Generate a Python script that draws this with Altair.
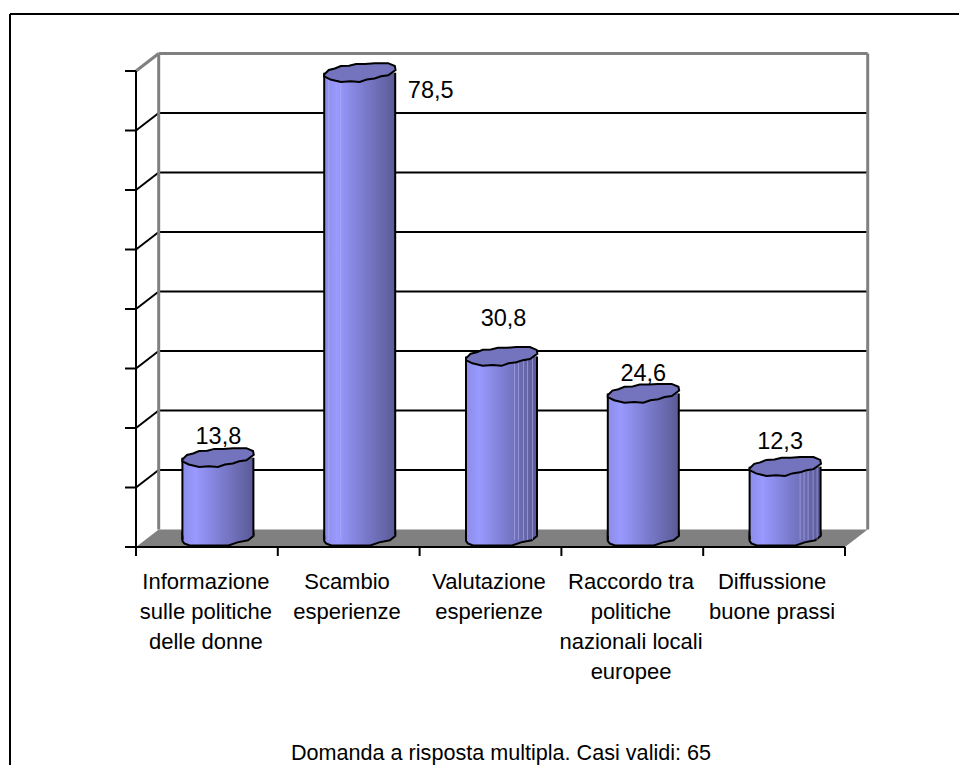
import altair as alt
import pandas as pd

# ---- chart values
categories = ["Informazione|sulle politiche|delle donne", "Scambio|esperienze",
              "Valutazione|esperienze", "Raccordo tra|politiche|nazionali locali|europee",
              "Diffussione|buone prassi"]
values = [13.8, 78.5, 30.8, 24.6, 12.3]
value_labels = ["13,8", "78,5", "30,8", "24,6", "12,3"]
y_ticks = [0, 10, 20, 30, 40, 50, 60, 70, 80]
x_ticks = [0, 1, 2, 3, 4, 5]
footer = ["Domanda a risposta multipla. Casi validi: 65"]

# ---- layout (pixels translated to scale units)
PX, PY = 141.8, 5.95           # px per category / per value unit
X0, Y0 = 128, 539              # position of the origin inside the view
W, H = 951, 757
DEPTH_X, DEPTH_Y = 22.7 / PX, 17.5 / PY
BASE_Y = 1.2
HALF = 35.5 / PX
CENTER = 0.5 + 11 / PX
label_dx = [0.5, 71, 2, 0, -5]
label_dy = [-20.7, 18, -37.6, -19.5, -24.7]
cat_dx = [-1, -1.7, -1.5, -1.3, -2]
stripe_bars = [1, 1, 2, 2, 2, 2, 2, 4, 4, 4, 4, 4]
stripe_px = [-19, -31, 13, 17, 22, 26, 31, 15, 19, 23, 28, 32]

x_scale = alt.Scale(domain=[-X0 / PX, (W - X0) / PX], range=[0, W], nice=False, zero=False)
y_scale = alt.Scale(domain=[(Y0 - H) / PY, Y0 / PY], range=[H, 0], nice=False, zero=False)
X = lambda f: alt.X(f, type="quantitative", scale=x_scale, axis=None)
Y = lambda f: alt.Y(f, type="quantitative", scale=y_scale, axis=None)
X2 = lambda f: alt.X2(f)
Y2 = lambda f: alt.Y2(f)

bars = pd.DataFrame({
    "c": [i + CENTER for i in range(5)],
    "v": values,
})
bars["l"] = bars.c - HALF
bars["r"] = bars.c + HALF
bars["top"] = bars.v + BASE_Y
bars["base"] = BASE_Y
bars["base_r"] = BASE_Y + 4 / PY
bars["tx"] = [c + d / PX for c, d in zip(bars.c, label_dx)]
bars["ty"] = [t + d / -PY for t, d in zip(bars.top, label_dy)]
bars["txt"] = value_labels
bars["catx"] = [i + 0.5 + d / PX for i, d in enumerate(cat_dx)]
bars["caty"] = -24.5 / PY
bars["cat"] = categories

stripes = pd.DataFrame({
    "x": [bars.c[b] + p / PX for b, p in zip(stripe_bars, stripe_px)],
    "top": [bars.top[b] for b in stripe_bars],
    "base": [BASE_Y for _ in stripe_bars],
})


def segs(rows):
    return pd.DataFrame(rows, columns=["x", "y", "x2", "y2"])


def rule(rows, color="black", width=2):
    return alt.Chart(segs(rows)).mark_rule(color=color, strokeWidth=width).encode(
        x=X("x"), y=Y("y"), x2=X2("x2"), y2=Y2("y2"))


floor = alt.Chart(pd.DataFrame({
    "y": [0, DEPTH_Y], "x": [0, DEPTH_X], "x2": [5, 5 + DEPTH_X]
})).mark_area(orient="horizontal", color="#808080", opacity=1).encode(
    y=Y("y"), x=X("x"), x2=X2("x2"))

grid_values = [v for v in y_ticks if 0 < v < 80]
grid = rule([[DEPTH_X, v + DEPTH_Y, 5 + DEPTH_X, v + DEPTH_Y] for v in grid_values])
diag = rule([[0, v, DEPTH_X, v + DEPTH_Y] for v in grid_values])
wall = rule([
    [DEPTH_X, DEPTH_Y, DEPTH_X, 80 + DEPTH_Y],
    [5 + DEPTH_X, DEPTH_Y, 5 + DEPTH_X, 80 + DEPTH_Y],
    [DEPTH_X, 80 + DEPTH_Y, 5 + DEPTH_X, 80 + DEPTH_Y],
    [0, 80, DEPTH_X, 80 + DEPTH_Y],
], color="#808080", width=3)
axes = rule(
    [[0, 0, 0, 80], [0, 0, 5, 0]]
    + [[-11 / PX, v, 0, v] for v in y_ticks]
    + [[t, 0, t, -9 / PY] for t in x_ticks]
)
frame = rule([
    [(10 - 8 - X0) / PX, (Y0 - 6) / PY, (W - X0) / PX, (Y0 - 6) / PY],
    [(10 - 8 - X0) / PX, (Y0 - 6) / PY, (10 - 8 - X0) / PX, (Y0 - H) / PY],
])

side_grad = alt.Gradient(gradient="linear", x1=0, x2=1, y1=0, y2=0, stops=[
    alt.GradientStop(offset=0, color="#8C8CE8"),
    alt.GradientStop(offset=0.18, color="#9999FF"),
    alt.GradientStop(offset=0.55, color="#7C7CCF"),
    alt.GradientStop(offset=1, color="#5A5A96"),
])

top_pts = [(-1, .05), (-.87, -.08), (-.7, -.12), (-.53, -.19), (-.3, -.2), (-.10, -.25), (.15, -.25),
           (.42, -.27), (.80, -.27), (.99, -.19), (1.01, -.08), (.80, .07), (.6, .1), (.42, .16),
           (.2, .19), (0, .26), (-.25, .24), (-.53, .26), (-.82, .19), (-1, .10)]
bottom_pts = [(-1, -.2), (1, -.2), (1, -.11), (.85, .01), (.55, .07), (.3, .16),
              (-.8, .16), (-.95, .1), (-1, .03)]
to_path = lambda pts: "M" + "L".join(f"{a},{b}" for a, b in pts) + "Z"
SIZE = 71 ** 2

bottoms = alt.Chart(bars).mark_point(
    shape=to_path(bottom_pts), size=SIZE, filled=True, fill=side_grad, stroke="black", strokeWidth=2, opacity=1
).encode(x=X("c"), y=Y("base"))
bodies = alt.Chart(bars).mark_bar(color=side_grad).encode(
    x=X("l"), x2=X2("r"), y=Y("top"), y2=Y2("base_r"))
stripe_marks = alt.Chart(stripes).mark_rule(color="#B4B4F0", strokeWidth=1, opacity=0.55).encode(
    x=X("x"), y=Y("top"), y2=Y2("base"))
left_side = alt.Chart(bars).mark_rule(color="black", strokeWidth=2).encode(
    x=X("l"), y=Y("top"), y2=Y2("base"))
right_side = alt.Chart(bars).mark_rule(color="black", strokeWidth=2).encode(
    x=X("r"), y=Y("top"), y2=Y2("base_r"))
tops = alt.Chart(bars).mark_point(
    shape=to_path(top_pts), size=SIZE, filled=True, fill="#7474BE", stroke="black", strokeWidth=2, opacity=1
).encode(x=X("c"), y=Y("top"))

FONT = "Liberation Sans"
val_text = alt.Chart(bars).mark_text(font=FONT, fontSize=23.5, color="black").encode(
    x=X("tx"), y=Y("ty"), text="txt:N")
cat_text = alt.Chart(bars).mark_text(
    font=FONT, fontSize=22, color="black", lineBreak="|", lineHeight=30, baseline="top"
).encode(x=X("catx"), y=Y("caty"), text="cat:N")
foot_text = alt.Chart(pd.DataFrame({
    "x": [(501 - 136) / PX], "y": [(547 - 754) / PY], "t": footer
})).mark_text(font=FONT, fontSize=21.6, color="black").encode(x=X("x"), y=Y("y"), text="t:N")

chart = alt.layer(
    frame, floor, grid, diag, wall, axes,
    bottoms, bodies, stripe_marks, left_side, right_side, tops,
    val_text, cat_text, foot_text,
).properties(
    width=W, height=H, padding=0, background="white", autosize=alt.AutoSizeParams(type="none")
).configure_view(strokeWidth=0)

chart.save("out.html", embed_options={"renderer": "svg", "actions": False})
